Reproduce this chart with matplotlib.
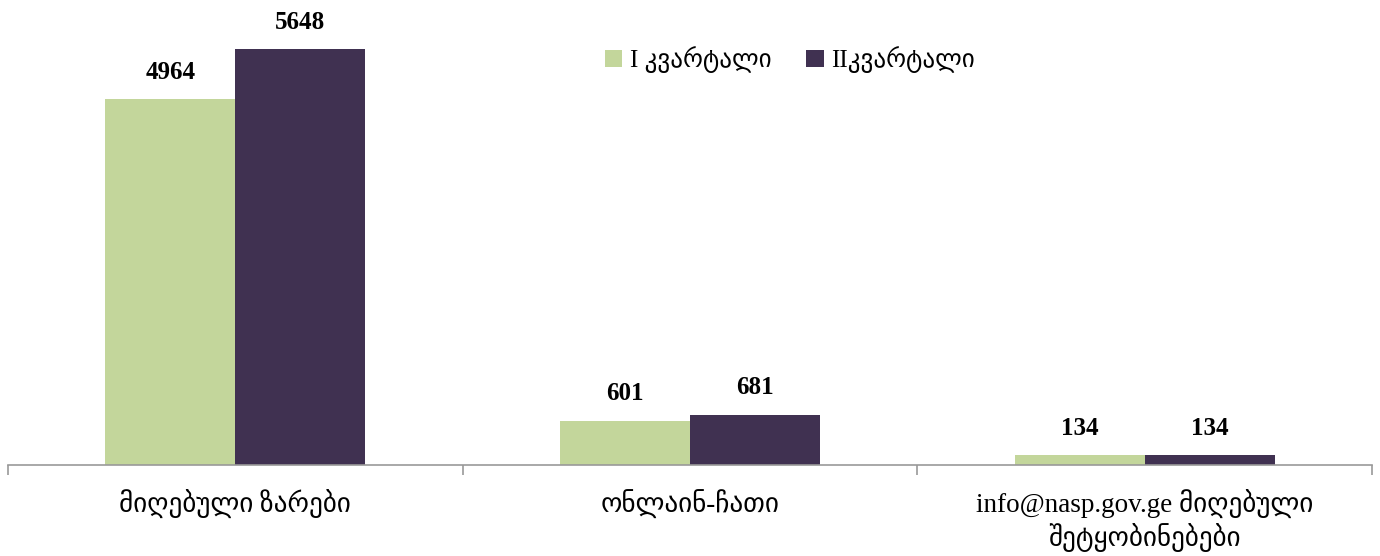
import matplotlib.pyplot as plt
import numpy as np

categories = ['მიღებული ზარები', 'ონლაინ-ჩათი', 'info@nasp.gov.ge მიღებული\nშეტყობინებები']
series_names = ['I კვარტალი', 'IIკვარტალი']
q1 = [4964, 601, 134]
q2 = [5648, 681, 134]
colors = ['#C3D69B', '#403151']

plt.rcParams['font.family'] = ['Liberation Serif', 'DejaVu Sans']

fig = plt.figure(figsize=(13.8, 5.56), dpi=100)
ax = fig.add_axes([8 / 1380, 91 / 556, 1364 / 1380, 465 / 556])

x = np.arange(len(categories))
w = 0.286
b1 = ax.bar(x - w / 2, q1, w, color=colors[0], label=series_names[0])
b2 = ax.bar(x + w / 2, q2, w, color=colors[1], label=series_names[1])

for bars, vals in ((b1, q1), (b2, q2)):
    for r, v in zip(bars, vals):
        ax.text(r.get_x() + r.get_width() / 2, v + 210, str(v), ha='center', va='bottom',
                fontsize=18, fontweight='bold')

ax.set_xlim(-0.5, len(categories) - 0.5)
ax.set_ylim(0, 5648 * 465 / 416)
ax.set_xticks(x)
ax.set_xticklabels(categories, fontsize=19.5, linespacing=1.15, fontweight='medium')
ax.set_xticks(np.arange(len(categories) + 1) - 0.5, minor=True)
ax.tick_params(axis='x', which='major', length=0, pad=18)
ax.tick_params(axis='x', which='minor', length=7, color='#999999', width=1.2)
ax.set_yticks([])
for s in ('top', 'right', 'left'):
    ax.spines[s].set_visible(False)
ax.spines['bottom'].set_color('#999999')
ax.spines['bottom'].set_linewidth(1.2)

ax.legend(loc='center', bbox_to_anchor=((790 - 8) / 1364, 1 - 60 / 465),
          ncol=2, frameon=False, fontsize=18, handlelength=0.7, handleheight=0.7,
          columnspacing=1.4, handletextpad=0.3)

fig.savefig('out.png', dpi=100)
